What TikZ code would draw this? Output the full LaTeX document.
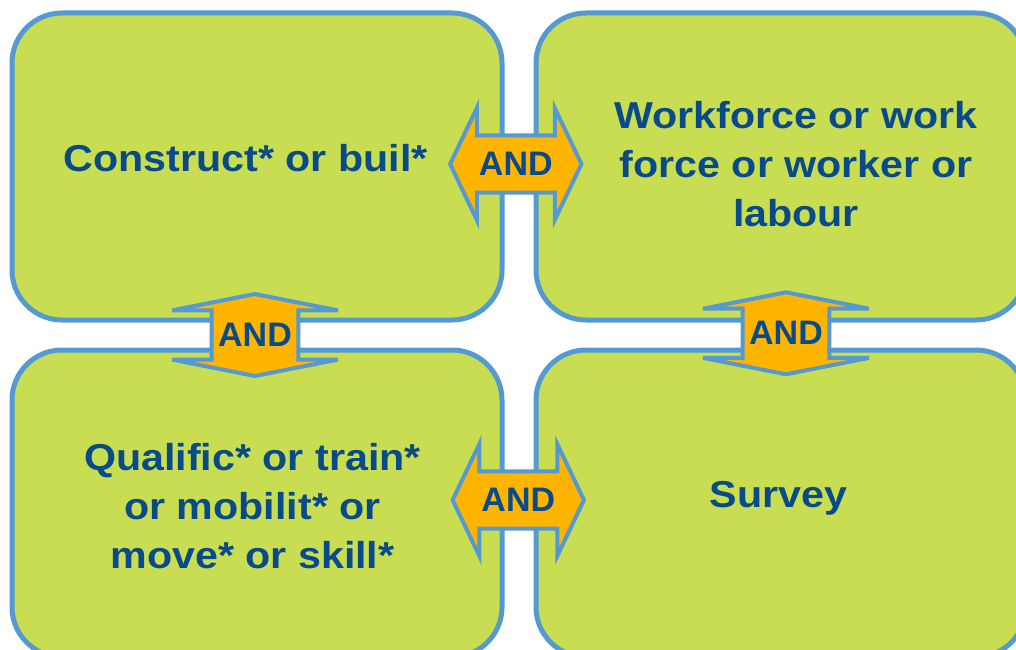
\documentclass[tikz,border=0pt]{standalone}
\usepackage{fontspec}
\setmainfont{Liberation Sans}
\newfontfamily\boxfont{Liberation Sans}[FakeStretch=1.1]
\usepackage{xcolor}
\usetikzlibrary{shapes.arrows}

\definecolor{boxgreen}{RGB}{201,221,82}
\definecolor{lineblue}{RGB}{84,153,210}
\definecolor{andorange}{RGB}{255,180,0}
\definecolor{textblue}{RGB}{8,74,138}

\begin{document}
\begin{tikzpicture}[x=0.75pt,y=0.75pt,yscale=-1,xscale=1,
  termbox/.style={draw=lineblue, line width=3.75pt, fill=boxgreen, rounded corners=37.5pt,
    minimum width=367.5pt, minimum height=230.25pt, inner sep=0pt},
  termtext/.style={text=textblue, font={\boxfont\bfseries\fontsize{28.1pt}{36.75pt}\selectfont},
    align=center, inner sep=0pt},
  andarrow/.style={shape=double arrow, draw=lineblue, line width=3pt, miter limit=5,
    fill=andorange, inner xsep=0pt, minimum width=0pt},
  harrow/.style={andarrow, inner ysep=20pt, minimum height=98.5pt,
    double arrow head extend=20.5pt, double arrow tip angle=129},
  varrow/.style={andarrow, rotate=90, inner ysep=31.1pt, minimum height=61.5pt,
    double arrow head extend=29.6pt, double arrow tip angle=157.6},
  andtext/.style={text=textblue, font={\bfseries\fontsize{25.5pt}{30pt}\selectfont}, inner sep=0pt}
]

\useasboundingbox (0,0) rectangle (1016,649);
\clip (0,0) rectangle (1016,649);
\fill[white] (0,0) rectangle (1016,649);

% the four search term boxes
\node[termbox] (bConstruct) at (257,166.5) {};
\node[termbox] (bWorkforce) at (781,166.5) {};
\node[termbox] (bQualific) at (257,503.5) {};
\node[termbox] (bSurvey) at (781,503.5) {};

% AND arrows between the boxes
\node[harrow] (aTop) at (515.8,164) {};
\node[harrow] (aBottom) at (518.3,500) {};
\node[varrow] (aLeft) at (255,335) {};
\node[varrow] (aRight) at (786,333.3) {};

\node[andtext] (tAndTop) at (aTop) {AND};
\node[andtext] (tAndBottom) at (aBottom) {AND};
\node[andtext] (tAndLeft) at (aLeft) {AND};
\node[andtext] (tAndRight) at (aRight) {AND};

% terms
\node[termtext, anchor=base] (tConstruct) at (245.5,171.7) {Construct* or buil*};
\node[termtext] (tWorkforce) at (796,163.8) {Workforce or work\\force or worker or\\labour};
\node[termtext] (tQualific) at (252.5,505.8) {Qualific* or train*\\or mobilit* or\\move* or skill*};
\node[termtext, anchor=base] (tSurvey) at (778.5,507.5) {Survey};

\end{tikzpicture}
\end{document}
